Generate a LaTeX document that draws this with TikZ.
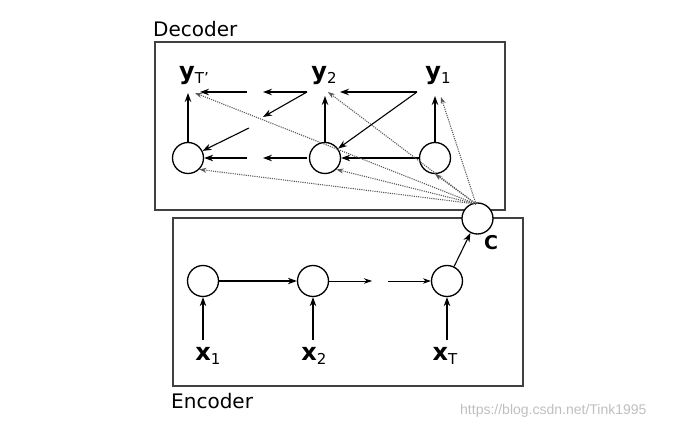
\documentclass[tikz,border=0pt]{standalone}
\usepackage{fontspec}
\setmainfont{DejaVu Sans}
\newfontfamily\wmfont{Liberation Sans}
\usetikzlibrary{arrows.meta}
\newcommand\sbx[1]{\raisebox{-4pt}{\fontsize{15}{15}\selectfont\mdseries #1}}
\begin{document}
\begin{tikzpicture}[x=1pt,y=-1pt,
  unit/.style={circle,draw,line width=1.3pt,minimum size=31pt,inner sep=0pt,fill=white},
  arr/.style={line width=1.1pt,-{Stealth[length=9pt,width=6.5pt]}},
  thinarr/.style={line width=0.8pt,-{Stealth[length=8pt,width=5.5pt]}},
  dots/.style={black!65,line width=1.1pt,dash pattern=on 1.1pt off 1.1pt,-{Stealth[length=7pt,width=5pt]}},
  box/.style={draw=black!75,line width=1.3pt},
  var/.style={font=\fontsize{24}{24}\selectfont\bfseries,inner sep=0pt,anchor=base},
  ttl/.style={font=\fontsize{20}{20}\selectfont,inner sep=0pt,anchor=base west},
]
\useasboundingbox (0,0) rectangle (681,433);
% boxes
\draw[box] (155,42) rectangle (505,210);
\draw[box] (173,218) rectangle (523,386);
\node[ttl] (dlab) at (153,37) {Decoder};
\node[ttl] (elab) at (171,408) {Encoder};
\node[inner sep=0pt,anchor=base west,text=black!25,font=\wmfont\fontsize{14}{14}\selectfont] (wm) at (460,414) {https://blog.csdn.net/Tink1995};

% encoder
\node[unit] (e1) at (203,281) {};
\node[unit] (e2) at (313,281) {};
\node[unit] (e3) at (447,281) {};
\node[var] (x1) at (208,360) {x\sbx{1}};
\node[var] (x2) at (314,360) {x\sbx{2}};
\node[var] (xT) at (445,360) {x\sbx{T}};
\coordinate (xa1) at (203,340);
\coordinate (xa2) at (313,340);
\coordinate (xa3) at (447,340);
\draw[arr] (xa1) -- (e1);
\draw[arr] (xa2) -- (e2);
\draw[arr] (xa3) -- (e3);
\coordinate (em1) at (372,281);
\coordinate (em2) at (388,281);
\draw[arr] (e1) -- (e2);
\draw[thinarr] (e2) -- (em1);
\draw[thinarr] (em2) -- (e3);

% context
\node[unit] (C) at (477.5,218.5) {};
\node[var,font=\fontsize{19}{19}\selectfont\bfseries] (clab) at (491,250) {C};
\draw[arr] (e3) -- (C);

% decoder
\node[unit] (d3) at (188,158) {};
\node[unit] (d2) at (325,158) {};
\node[unit] (d1) at (435,158) {};
\node[var] (yT) at (194,80) {y\sbx{T'}};
\node[var] (y2) at (324,80) {y\sbx{2}};
\node[var] (y1) at (438,80) {y\sbx{1}};
\coordinate (ya3) at (188,93);
\coordinate (ya2) at (325,96);
\coordinate (ya1) at (435,96);
\draw[arr] (d3) -- (ya3);
\draw[arr] (d2) -- (ya2);
\draw[arr] (d1) -- (ya1);

% feedback / top row
\coordinate (t1) at (417,92);
\coordinate (t2) at (340,92);
\coordinate (t3) at (307,92);
\coordinate (t4) at (263,92);
\coordinate (t5) at (247,92);
\coordinate (t6) at (200,92);
\coordinate (m1) at (263,117);
\coordinate (m2) at (249,128);
\draw[arr] (t1) -- (t2);
\draw[arr] (t1) -- (d2);
\draw[arr] (t3) -- (t4);
\draw[arr] (t3) -- (m1);
\draw[arr] (t5) -- (t6);
\draw[arr] (m2) -- (d3);

% bottom row
\coordinate (b1) at (307,158);
\coordinate (b2) at (263,158);
\coordinate (b3) at (247,158);
\draw[arr] (d1) -- (d2);
\draw[arr] (b1) -- (b2);
\draw[arr] (b3) -- (d3);

% attention (dotted)
\coordinate (cs) at (476,204);
\coordinate (q1) at (195,93);
\coordinate (q2) at (328,92);
\coordinate (q3) at (441,97);
\draw[dots] (cs) -- (q1);
\draw[dots] (cs) -- (q2);
\draw[dots] (cs) -- (q3);
\draw[dots] (cs) -- (d3.south east);
\draw[dots] (cs) -- (d2.south east);
\draw[dots] (cs) -- (d1.south);
\end{tikzpicture}
\end{document}
